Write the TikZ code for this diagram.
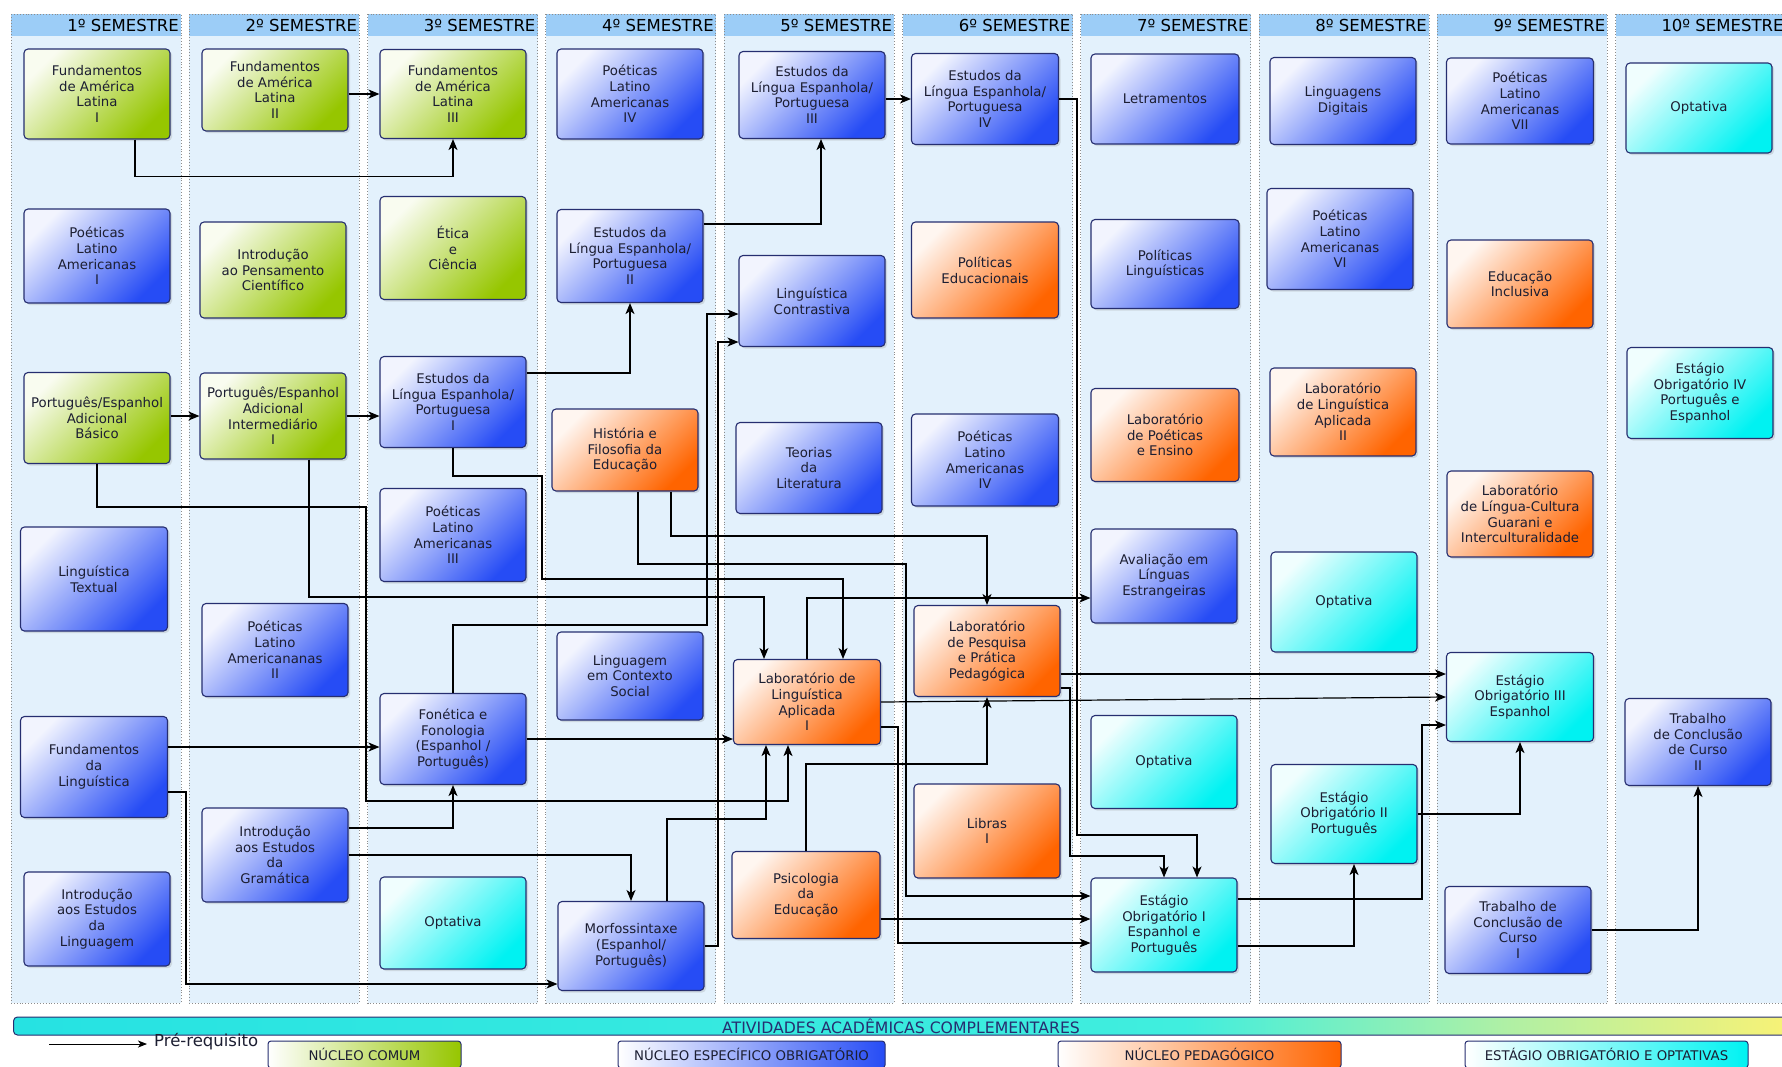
\documentclass[tikz,border=0pt]{standalone}
\usepackage{fontspec}
\setmainfont{DejaVu Sans}
\usepackage{xcolor}
\usepackage{tikz}
\usetikzlibrary{arrows.meta}
\usetikzlibrary{shadows}

\definecolor{linha}{RGB}{38,46,112}
\definecolor{verde}{RGB}{150,198,0}
\definecolor{azul}{RGB}{38,76,245}
\definecolor{laranja}{RGB}{255,100,0}
\definecolor{ciano}{RGB}{0,242,242}
\definecolor{painel}{RGB}{227,241,252}
\definecolor{cabeca}{RGB}{156,205,247}
\definecolor{texto}{RGB}{28,30,50}
\definecolor{barA}{RGB}{38,226,226}
\definecolor{barB}{RGB}{64,238,222}
\definecolor{barC}{RGB}{175,240,165}
\definecolor{barD}{RGB}{248,242,118}
\pgfdeclarehorizontalshading{faixa}{100bp}{color(0bp)=(barA); color(25bp)=(barA); color(58bp)=(barB); color(67bp)=(barC); color(75bp)=(barD); color(100bp)=(barD)}

\begin{document}
\begin{tikzpicture}[x=1pt, y=-1pt,
    disc/.style={draw=linha, line width=1.1pt, rounded corners=4pt,
      minimum width=146pt, minimum height=90pt, inner sep=0pt,
      align=center, text=texto, font=\fontsize{13.3}{15.7}\selectfont,
      drop shadow={opacity=0.22, shadow xshift=2pt, shadow yshift=-2pt}},
    comum/.style={disc, top color=verde!6!white, bottom color=verde, shading angle=45},
    especifico/.style={disc, top color=azul!6!white, bottom color=azul, shading angle=45},
    pedagogico/.style={disc, top color=laranja!6!white, bottom color=laranja, shading angle=45},
    estagio/.style={disc, top color=ciano!6!white, bottom color=ciano, shading angle=45},
    legenda/.style={draw=linha, line width=1pt, rounded corners=3pt,
      minimum height=27pt, inner sep=0pt, text=texto,
      font=\fontsize{13.3}{15.7}\selectfont},
    prereq/.style={-{Stealth[length=11pt, width=9pt, inset=3pt]}, line width=1.2pt},
  ]
  \useasboundingbox (0,0) rectangle (1782,1066);
  \fill[white] (0,0) rectangle (1782,1066);

  % colunas dos semestres
  \foreach \n in {1,...,10} {
    \pgfmathsetmacro{\xa}{11+(\n-1)*178.3}
    \fill[painel] (\xa,14) rectangle ++(170,989);
    \fill[cabeca] (\xa,14) rectangle ++(170,22);
    \draw[black!45, dotted, line width=0.9pt] (\xa,14) rectangle ++(170,989);
    \node[anchor=east, inner sep=0pt, font=\fontsize{16.5}{18}\selectfont] (S\n) at (\xa+168,25.5) {\n{}º SEMESTRE};
  }

  % 1o semestre
  \node[comum] (FAL1) at (97,94) {Fundamentos\\de América\\Latina\\I};
  \node[especifico, minimum height=94pt] (PLA1) at (97,256) {Poéticas\\Latino\\Americanas\\I};
  \node[comum, minimum height=91pt] (PEAB) at (97,418) {Português/Espanhol\\Adicional\\Básico};
  \node[especifico, minimum height=104pt, minimum width=147pt] (LT) at (94,579) {Linguística\\Textual};
  \node[especifico, minimum height=101pt, minimum width=147pt] (FL) at (94,767) {Fundamentos\\da\\Linguística};
  \node[especifico, minimum height=94pt] (IEL) at (97,919) {Introdução\\aos Estudos\\da\\Linguagem};

  % 2o semestre
  \node[comum, minimum height=82pt] (FAL2) at (275,90) {Fundamentos\\de América\\Latina\\II};
  \node[comum, minimum height=96pt] (IPC) at (273,270) {Introdução\\ao Pensamento\\Científico};
  \node[comum, minimum height=86pt] (PEAI) at (273,416) {Português/Espanhol\\Adicional\\Intermediário\\I};
  \node[especifico, minimum height=93pt] (PLA2) at (275,650) {Poéticas\\Latino\\Americananas\\II};
  \node[especifico, minimum height=94pt] (IEG) at (275,855) {Introdução\\aos Estudos\\da\\Gramática};

  % 3o semestre
  \node[comum, minimum height=89pt] (FAL3) at (453,94) {Fundamentos\\de América\\Latina\\III};
  \node[comum, minimum height=103pt] (EC) at (453,248) {Ética\\e\\Ciência};
  \node[especifico, minimum height=91pt] (ELEP1) at (453,402) {Estudos da\\Língua Espanhola/\\Portuguesa\\I};
  \node[especifico, minimum height=93pt] (PLA3) at (453,535) {Poéticas\\Latino\\Americanas\\III};
  \node[especifico, minimum height=91pt] (FF) at (453,739) {Fonética e\\Fonologia\\(Espanhol /\\Português)};
  \node[estagio, minimum height=92pt] (OPT3) at (453,923) {Optativa};

  % 4o semestre
  \node[especifico] (PLA4) at (630,94) {Poéticas\\Latino\\Americanas\\IV};
  \node[especifico, minimum height=93pt] (ELEP2) at (630,256) {Estudos da\\Língua Espanhola/\\Portuguesa\\II};
  \node[pedagogico, minimum height=82pt] (HFE) at (625,450) {História e\\Filosofia da\\Educação};
  \node[especifico, minimum height=88pt] (LCS) at (630,676) {Linguagem\\em Contexto\\Social};
  \node[especifico, minimum height=89pt] (MS) at (631,946) {Morfossintaxe\\(Espanhol/\\Português)};

  % 5o semestre
  \node[especifico, minimum height=87pt] (ELEP3) at (812,95) {Estudos da\\Língua Espanhola/\\Portuguesa\\III};
  \node[especifico, minimum height=91pt] (LC) at (812,301) {Linguística\\Contrastiva};
  \node[especifico, minimum height=91pt] (TL) at (809,468) {Teorias\\da\\Literatura};
  \node[pedagogico, minimum height=85pt, minimum width=147pt] (LLA1) at (807,702) {Laboratório de\\Linguística\\Aplicada\\I};
  \node[pedagogico, minimum height=87pt, minimum width=148pt] (PE) at (806,895) {Psicologia\\da\\Educação};

  % 6o semestre
  \node[especifico, minimum height=91pt, minimum width=147pt] (ELEP4) at (985,99) {Estudos da\\Língua Espanhola/\\Portuguesa\\IV};
  \node[pedagogico, minimum height=96pt, minimum width=147pt] (PED) at (985,270) {Políticas\\Educacionais};
  \node[especifico, minimum height=92pt, minimum width=147pt] (PLA4B) at (985,460) {Poéticas\\Latino\\Americanas\\IV};
  \node[pedagogico, minimum height=91pt] (LPPP) at (987,651) {Laboratório\\de Pesquisa\\e Prática\\Pedagógica};
  \node[pedagogico, minimum height=94pt] (LIB) at (987,831) {Libras\\I};

  % 7o semestre
  \node[especifico, minimum width=148pt] (LET) at (1165,99) {Letramentos};
  \node[especifico, minimum height=89pt, minimum width=148pt] (PL) at (1165,264) {Políticas\\Linguísticas};
  \node[pedagogico, minimum height=93pt, minimum width=148pt] (LPE) at (1165,435) {Laboratório\\de Poéticas\\e Ensino};
  \node[especifico, minimum height=94pt] (ALE) at (1164,576) {Avaliação em\\Línguas\\Estrangeiras};
  \node[estagio, minimum height=93pt] (OPT7) at (1164,762) {Optativa};
  \node[estagio, minimum height=94pt] (EO1) at (1164,925) {Estágio\\Obrigatório I\\Espanhol e\\Português};

  % 8o semestre
  \node[especifico, minimum height=87pt] (LD) at (1343,101) {Linguagens\\Digitais};
  \node[especifico, minimum height=101pt] (PLA6) at (1340,239) {Poéticas\\Latino\\Americanas\\VI};
  \node[pedagogico, minimum height=88pt] (LLA2) at (1343,412) {Laboratório\\de Linguística\\Aplicada\\II};
  \node[estagio, minimum height=100pt] (OPT8) at (1344,602) {Optativa};
  \node[estagio, minimum height=99pt] (EO2) at (1344,814) {Estágio\\Obrigatório II\\Português};

  % 9o semestre
  \node[especifico, minimum height=86pt, minimum width=147pt] (PLA7) at (1520,101) {Poéticas\\Latino\\Americanas\\VII};
  \node[pedagogico, minimum height=88pt] (EI) at (1520,284) {Educação\\Inclusiva};
  \node[pedagogico, minimum height=86pt] (LLCG) at (1520,514) {Laboratório\\de Língua-Cultura\\Guarani e\\Interculturalidade};
  \node[estagio, minimum height=89pt, minimum width=147pt] (EO3) at (1520,697) {Estágio\\Obrigatório III\\Espanhol};
  \node[especifico, minimum height=87pt] (TCC1) at (1518,930) {Trabalho de\\Conclusão de\\Curso\\I};

  % 10o semestre
  \node[estagio] (OPT10) at (1699,108) {Optativa};
  \node[estagio, minimum height=91pt] (EO4) at (1700,393) {Estágio\\Obrigatório IV\\Português e\\Espanhol};
  \node[especifico, minimum height=87pt] (TCC2) at (1698,742) {Trabalho\\de Conclusão\\de Curso\\II};

  % pre-requisitos
  \path [prereq] (FAL3.west -| FAL2.east) edge (FAL3.west);
  \draw [prereq] ([xshift=38pt]FAL1.south) -- ++(0,37) -| (FAL3.south);
  \path [prereq] (PEAI.west -| PEAB.east) edge (PEAI.west);
  \path [prereq] (PEAI.east) edge (PEAI.east -| ELEP1.west);
  \draw [prereq] ([yshift=29pt]ELEP1.east) -| (ELEP2.south);
  \draw [prereq] ([yshift=32pt]ELEP2.east) -| ([xshift=9pt]ELEP3.south);
  \path [prereq] (ELEP4.west -| ELEP3.east) edge (ELEP4.west);
  \draw [prereq] (ELEP4.east) -| (1077,835) -| ([xshift=33pt]EO1.north);
  \draw [prereq] ([yshift=-37pt]LPPP.east) -| (1070,856) -| (EO1.north);
  \draw [prereq] (PEAB.south) |- (366,507) |- (788,801) -- ([xshift=-19pt]LLA1.south);
  \draw [prereq] ([xshift=36pt]PEAI.south) |- (764,597) -- ([xshift=-43pt]LLA1.north);
  \draw [prereq] (ELEP1.south) |- (542,476) |- (843,579) -- ([xshift=36pt]LLA1.north);
  \draw [prereq] ([xshift=46pt]HFE.south) |- (987,536) -- (LPPP.north);
  \draw [prereq] ([xshift=13pt]HFE.south) |- (906,564) |- ([yshift=29pt]EO1.west);
  \draw [prereq] ([yshift=-25pt]LLA1.east) -| (898,943) -- ([yshift=-18pt]EO1.west);
  \path [prereq] ([yshift=-24pt]PE.east) edge ([yshift=6pt]EO1.west);
  \path [prereq] (LLA1.east) edge (EO3.west);
  \path [prereq] ([yshift=-23pt]LPPP.east) edge ([yshift=23pt]EO3.west);
  \draw [prereq] ([yshift=26pt]EO1.east) -| (1422,725) -- ([yshift=-28pt]EO3.west);
  \draw [prereq] ([yshift=-21pt]EO1.east) -| ([xshift=10pt]EO2.south);
  \draw [prereq] (EO2.east) -| (EO3.south);
  \draw [prereq] (TCC1.east) -| (TCC2.south);
  \path [prereq] ([yshift=20pt]FL.east) edge ([yshift=-8pt]FF.west);
  \draw [prereq] ([yshift=-25pt]FL.east) -| (186,984) -- ([yshift=-38pt]MS.west);
  \draw [prereq] ([yshift=27pt]IEG.east) -| (FF.south);
  \draw [prereq] (IEG.east) -| (MS.north);
  \path [prereq] (FF.east) edge ([yshift=-37pt]LLA1.west);
  \draw [prereq] (FF.north) |- (707,625) |- ([yshift=-13pt]LC.west);
  \draw [prereq] (MS.east) -| (718,342) -- ([yshift=-41pt]LC.west);
  \draw [prereq] ([xshift=36pt]MS.north) |- (766,819) -- ([xshift=-41pt]LLA1.south);
  \draw [prereq] (PE.north) |- (987,764) -- (LPPP.south);
  \draw [prereq] (LLA1.north) |- ([yshift=-22pt]ALE.west);

  % faixa e legenda
  \node[draw=linha, line width=1pt, rounded corners=4pt, shade, shading=faixa, anchor=west,
    minimum width=1775pt, minimum height=18pt, inner sep=0pt, text=linha,
    font=\fontsize{15.7}{17}\selectfont] (AAC) at (13,1026) {ATIVIDADES ACADÊMICAS COMPLEMENTARES};
  \coordinate (P0) at (49,1044);
  \node[anchor=west, inner sep=1pt, text=texto, font=\fontsize{16.5}{18}\selectfont] (PR) at (153,1042) {Pré-requisito};
  \draw [-{Stealth[length=9pt, width=7pt, inset=2.5pt]}, line width=1pt, shorten >=6pt] (P0) -- (P0 -| PR.west);
  \node[legenda, left color=white, right color=verde, minimum width=193pt] (LNC) at (364.5,1054.5) {NÚCLEO COMUM};
  \node[legenda, left color=white, right color=azul, minimum width=267pt] (LNE) at (751.5,1054.5) {NÚCLEO ESPECÍFICO OBRIGATÓRIO};
  \node[legenda, left color=white, right color=laranja, minimum width=283pt] (LNP) at (1199.5,1054.5) {NÚCLEO PEDAGÓGICO};
  \node[legenda, left color=white, right color=ciano, minimum width=283pt] (LEO) at (1606.5,1054.5) {ESTÁGIO OBRIGATÓRIO E OPTATIVAS};
\end{tikzpicture}
\end{document}
